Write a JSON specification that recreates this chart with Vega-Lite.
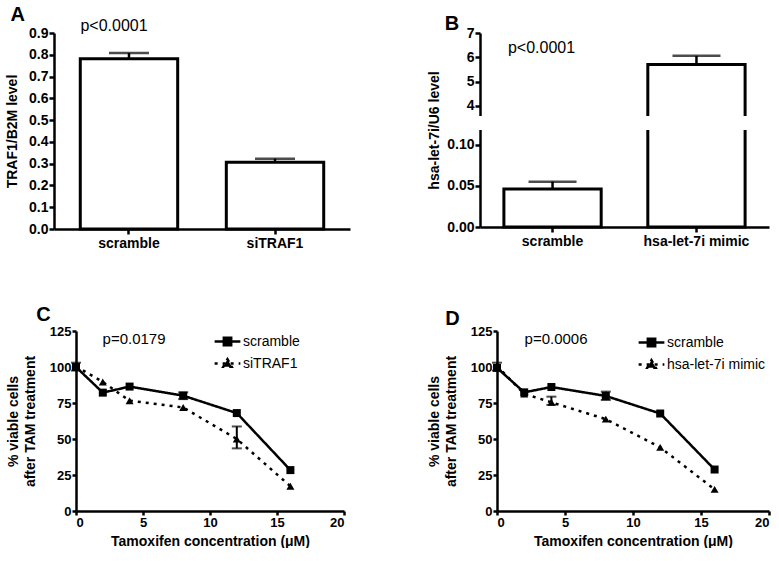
{
  "$schema": "https://vega.github.io/schema/vega-lite/v6.json",
  "padding": {"left": 5, "top": 5, "right": 0, "bottom": 0},
  "background": "white",
  "config": {
    "font": "Liberation Sans",
    "view": {"stroke": null},
    "axis": {
      "grid": false, "labelOverlap": false, "tickCount": 20,
      "domainColor": "black", "domainWidth": 2.5,
      "tickColor": "black", "tickWidth": 2.5, "tickSize": 5,
      "labelColor": "black", "labelFont": "Liberation Sans", "labelFontWeight": "bold", "labelFontSize": 14, "labelPadding": 1,
      "titleColor": "black", "titleFont": "Liberation Sans", "titleFontWeight": "bold", "titleFontSize": 14
    },
    "title": {"font": "Liberation Sans", "fontSize": 20, "fontWeight": "bold", "color": "black", "anchor": "start", "frame": "bounds", "offset": 0},
    "legend": {"labelFont": "Liberation Sans", "labelFontSize": 14, "labelColor": "black"}
  },
  "columns": 2,
  "align": {"row": "all", "column": "none"},
  "spacing": {"row": 55, "column": 77},
  "resolve": {"scale": {"strokeDash": "independent"}, "legend": {"strokeDash": "independent"}},
  "concat": [
        {
          "width": 296, "height": 196,
          "title": {"text": "A", "dx": 5, "dy": 11},
          "data": {"values": [
            {"group": "scramble", "mean": 0.782, "upper": 0.808},
            {"group": "siTRAF1", "mean": 0.306, "upper": 0.323}
          ]},
          "encoding": {
            "x": {"field": "group", "type": "nominal", "sort": ["scramble", "siTRAF1"],
                  "scale": {"paddingInner": 0.333, "paddingOuter": 0.18},
                  "axis": {"title": null, "labelAngle": 0, "labelPadding": 2}}
          },
          "layer": [
            {"mark": {"type": "bar", "fill": "white", "stroke": "black", "strokeWidth": 3},
             "encoding": {"y": {"field": "mean", "type": "quantitative",
               "scale": {"domain": [0, 0.9], "nice": false},
               "axis": {"title": "TRAF1/B2M level", "values": [0, 0.1, 0.2, 0.3, 0.4, 0.5, 0.6, 0.7, 0.8, 0.9], "tickCount": 20, "format": ".1f", "titlePadding": 9}}}},
            {"mark": {"type": "rule", "color": "black", "strokeWidth": 2.5},
             "encoding": {"y": {"field": "mean", "type": "quantitative"}, "y2": {"field": "upper"}}},
            {"mark": {"type": "tick", "orient": "horizontal", "color": "black", "size": 40, "thickness": 2.5},
             "encoding": {"y": {"field": "upper", "type": "quantitative"}}},
            {"data": {"values": [{"group": "scramble", "y": 0.93, "label": "p<0.0001"}]},
             "mark": {"type": "text", "fontSize": 16, "color": "black", "dx": -15},
             "encoding": {"y": {"field": "y", "type": "quantitative"}, "text": {"field": "label"}}}
          ]
        },
        {
          "width": 289, "height": 194,
          "title": {"text": "B", "dx": 17, "dy": 12},
          "data": {"values": [
            {"group": "scramble", "mean": 0.046, "upper": 0.055},
            {"group": "hsa-let-7i mimic", "mean": 5.7, "upper": 6.06}
          ]},
          "encoding": {
            "x": {"field": "group", "type": "nominal", "sort": ["scramble", "hsa-let-7i mimic"],
                  "scale": {"paddingInner": 0.324, "paddingOuter": 0.166},
                  "axis": {"title": null, "labelAngle": 0, "labelPadding": 2}}
          },
          "layer": [
            {"mark": {"type": "bar", "fill": "white", "stroke": "black", "strokeWidth": 3},
             "encoding": {"y": {"field": "mean", "type": "quantitative",
               "scale": {"domain": [0, 0.12, 3.5, 7], "range": [194, 95, 85, 0], "nice": false, "zero": false},
               "axis": {"title": "hsa-let-7i/U6 level", "values": [0, 0.05, 0.1, 4, 5, 6, 7], "tickCount": 20,
                        "labelExpr": "datum.value < 1 ? format(datum.value, '.2f') : format(datum.value, 'd')", "titlePadding": 5}}}},
            {"mark": {"type": "rule", "color": "black", "strokeWidth": 2.5},
             "encoding": {"y": {"field": "mean", "type": "quantitative"}, "y2": {"field": "upper"}}},
            {"mark": {"type": "tick", "orient": "horizontal", "color": "black", "size": 48, "thickness": 2.5},
             "encoding": {"y": {"field": "upper", "type": "quantitative"}}},
            {"data": {"values": [{"lo": 0.12, "hi": 3.5}]},
             "mark": {"type": "rect", "fill": "white", "stroke": "white", "strokeWidth": 4},
             "encoding": {"x": null, "y": {"field": "lo", "type": "quantitative"}, "y2": {"field": "hi"}}},
            {"data": {"values": [{"group": "scramble", "y": 6.4, "label": "p<0.0001"}]},
             "mark": {"type": "text", "fontSize": 16, "color": "black", "dx": -11},
             "encoding": {"y": {"field": "y", "type": "quantitative"}, "text": {"field": "label"}}}
          ]
        },
        {
          "width": 290, "height": 180,
          "title": {"text": "C", "dx": 30, "dy": 4},
          "layer": [
            {"data": {"values": [
              {"series": "scramble", "conc": 0, "mean": 100},
              {"series": "scramble", "conc": 2, "mean": 82.2},
              {"series": "scramble", "conc": 4, "mean": 86.4},
              {"series": "scramble", "conc": 8, "mean": 80.1},
              {"series": "scramble", "conc": 12, "mean": 68},
              {"series": "scramble", "conc": 16, "mean": 28.4},
              {"series": "siTRAF1", "conc": 0, "mean": 100.5},
              {"series": "siTRAF1", "conc": 2, "mean": 89.6},
              {"series": "siTRAF1", "conc": 4, "mean": 76.6},
              {"series": "siTRAF1", "conc": 8, "mean": 71.9},
              {"series": "siTRAF1", "conc": 12, "mean": 50},
              {"series": "siTRAF1", "conc": 16, "mean": 17.2}
            ]},
             "layer": [
              {"mark": {"type": "line", "color": "black", "strokeWidth": 2.5, "strokeCap": "butt"},
               "encoding": {
                 "x": {"field": "conc", "type": "quantitative", "scale": {"domain": [0, 20], "nice": false, "range": [22, 290]},
                       "axis": {"title": "Tamoxifen concentration (μM)", "values": [0, 5, 10, 15, 20], "tickCount": 20, "labelFontSize": 13, "tickSize": 4, "titlePadding": 5}},
                 "y": {"field": "mean", "type": "quantitative", "scale": {"domain": [0, 125], "nice": false},
                       "axis": {"title": ["% viable cells", "after TAM treatment"], "values": [0, 25, 50, 75, 100, 125], "tickCount": 20, "offset": -22, "labelFontSize": 13, "tickSize": 4, "titlePadding": 12, "titleLineHeight": 17}},
                 "strokeDash": {"field": "series", "type": "nominal", "scale": {"domain": ["scramble", "siTRAF1"], "range": [[1, 0], [3, 5]]},
                   "legend": {"title": null, "orient": "none", "legendX": 166, "legendY": 3, "padding": 0,
                     "symbolSize": 150, "labelOffset": 8, "rowPadding": 3,
                     "symbolFillColor": "black", "symbolStrokeColor": "black", "symbolStrokeWidth": 2.5,
                     "encode": {"symbols": {"update": {
                       "shape": {"signal": "datum.value === 'scramble' ? 'M-2.1,0H2.1M-0.6,-0.6H0.6V0.6H-0.6Z' : 'M-2.1,0H2.1M0,-0.7L0.68,0.52H-0.68Z'"},
                       "fill": {"value": "black"}, "stroke": {"value": "black"}, "opacity": {"value": 1}
                     }}}}}
               }},
              {"transform": [{"filter": "datum.series === 'scramble'"}],
               "mark": {"type": "point", "shape": "square", "filled": true, "color": "black", "opacity": 1, "size": 64},
               "encoding": {"x": {"field": "conc", "type": "quantitative"}, "y": {"field": "mean", "type": "quantitative"}}},
              {"transform": [{"filter": "datum.series !== 'scramble'"}],
               "mark": {"type": "point", "shape": "triangle-up", "filled": true, "color": "black", "opacity": 1, "size": 64},
               "encoding": {"x": {"field": "conc", "type": "quantitative"}, "y": {"field": "mean", "type": "quantitative"}}}
             ]},
            {"data": {"values": [
              {"conc": 0, "lo": 97.5, "hi": 103},
              {"conc": 8, "lo": 77.7, "hi": 82.4},
              {"conc": 12, "lo": 43.5, "hi": 58.7}
            ]},
             "layer": [
              {"mark": {"type": "rule", "color": "black", "strokeWidth": 2},
               "encoding": {"x": {"field": "conc", "type": "quantitative"}, "y": {"field": "lo", "type": "quantitative"}, "y2": {"field": "hi"}}},
              {"mark": {"type": "tick", "orient": "horizontal", "color": "black", "size": 10, "thickness": 2},
               "encoding": {"x": {"field": "conc", "type": "quantitative"}, "y": {"field": "lo", "type": "quantitative"}}},
              {"mark": {"type": "tick", "orient": "horizontal", "color": "black", "size": 10, "thickness": 2},
               "encoding": {"x": {"field": "conc", "type": "quantitative"}, "y": {"field": "hi", "type": "quantitative"}}}
             ]},
            {"data": {"values": [{"x": 4.33, "y": 119.4, "label": "p=0.0179"}]},
             "mark": {"type": "text", "fontSize": 15, "color": "black"},
             "encoding": {"x": {"field": "x", "type": "quantitative"}, "y": {"field": "y", "type": "quantitative"}, "text": {"field": "label"}}}
          ]
        },
        {
          "width": 272, "height": 180,
          "title": {"text": "D", "dx": 18, "dy": 8},
          "layer": [
            {"data": {"values": [
              {"series": "scramble", "conc": 0, "mean": 99.4},
              {"series": "scramble", "conc": 2, "mean": 82.4},
              {"series": "scramble", "conc": 4, "mean": 86.1},
              {"series": "scramble", "conc": 8, "mean": 79.9},
              {"series": "scramble", "conc": 12, "mean": 67.7},
              {"series": "scramble", "conc": 16, "mean": 28.8},
              {"series": "hsa-let-7i mimic", "conc": 0, "mean": 100.8},
              {"series": "hsa-let-7i mimic", "conc": 2, "mean": 81.3},
              {"series": "hsa-let-7i mimic", "conc": 4, "mean": 75.5},
              {"series": "hsa-let-7i mimic", "conc": 8, "mean": 63.8},
              {"series": "hsa-let-7i mimic", "conc": 12, "mean": 44.2},
              {"series": "hsa-let-7i mimic", "conc": 16, "mean": 15}
            ]},
             "layer": [
              {"mark": {"type": "line", "color": "black", "strokeWidth": 2.5, "strokeCap": "butt"},
               "encoding": {
                 "x": {"field": "conc", "type": "quantitative", "scale": {"domain": [0, 20], "nice": false},
                       "axis": {"title": "Tamoxifen concentration (μM)", "values": [0, 5, 10, 15, 20], "tickCount": 20, "labelFontSize": 13, "tickSize": 4, "titlePadding": 5}},
                 "y": {"field": "mean", "type": "quantitative", "scale": {"domain": [0, 125], "nice": false},
                       "axis": {"title": ["% viable cells", "after TAM treatment"], "values": [0, 25, 50, 75, 100, 125], "tickCount": 20, "labelFontSize": 13, "tickSize": 4, "titlePadding": 12, "titleLineHeight": 17}},
                 "strokeDash": {"field": "series", "type": "nominal", "scale": {"domain": ["scramble", "hsa-let-7i mimic"], "range": [[1, 0], [3, 5]]},
                   "legend": {"title": null, "orient": "none", "legendX": 147, "legendY": 4, "padding": 0,
                     "symbolSize": 150, "labelOffset": 8, "rowPadding": 3,
                     "symbolFillColor": "black", "symbolStrokeColor": "black", "symbolStrokeWidth": 2.5,
                     "encode": {"symbols": {"update": {
                       "shape": {"signal": "datum.value === 'scramble' ? 'M-2.1,0H2.1M-0.6,-0.6H0.6V0.6H-0.6Z' : 'M-2.1,0H2.1M0,-0.7L0.68,0.52H-0.68Z'"},
                       "fill": {"value": "black"}, "stroke": {"value": "black"}, "opacity": {"value": 1}
                     }}}}}
               }},
              {"transform": [{"filter": "datum.series === 'scramble'"}],
               "mark": {"type": "point", "shape": "square", "filled": true, "color": "black", "opacity": 1, "size": 64},
               "encoding": {"x": {"field": "conc", "type": "quantitative"}, "y": {"field": "mean", "type": "quantitative"}}},
              {"transform": [{"filter": "datum.series !== 'scramble'"}],
               "mark": {"type": "point", "shape": "triangle-up", "filled": true, "color": "black", "opacity": 1, "size": 64},
               "encoding": {"x": {"field": "conc", "type": "quantitative"}, "y": {"field": "mean", "type": "quantitative"}}}
             ]},
            {"data": {"values": [
              {"conc": 0, "lo": 97.5, "hi": 103},
              {"conc": 4, "lo": 73.7, "hi": 79.4},
              {"conc": 8, "lo": 77.1, "hi": 82.9}
            ]},
             "layer": [
              {"mark": {"type": "rule", "color": "black", "strokeWidth": 2},
               "encoding": {"x": {"field": "conc", "type": "quantitative"}, "y": {"field": "lo", "type": "quantitative"}, "y2": {"field": "hi"}}},
              {"mark": {"type": "tick", "orient": "horizontal", "color": "black", "size": 10, "thickness": 2},
               "encoding": {"x": {"field": "conc", "type": "quantitative"}, "y": {"field": "lo", "type": "quantitative"}}},
              {"mark": {"type": "tick", "orient": "horizontal", "color": "black", "size": 10, "thickness": 2},
               "encoding": {"x": {"field": "conc", "type": "quantitative"}, "y": {"field": "hi", "type": "quantitative"}}}
             ]},
            {"data": {"values": [{"x": 4.34, "y": 119.5, "label": "p=0.0006"}]},
             "mark": {"type": "text", "fontSize": 15, "color": "black"},
             "encoding": {"x": {"field": "x", "type": "quantitative"}, "y": {"field": "y", "type": "quantitative"}, "text": {"field": "label"}}}
          ]
        }
  ]
}
